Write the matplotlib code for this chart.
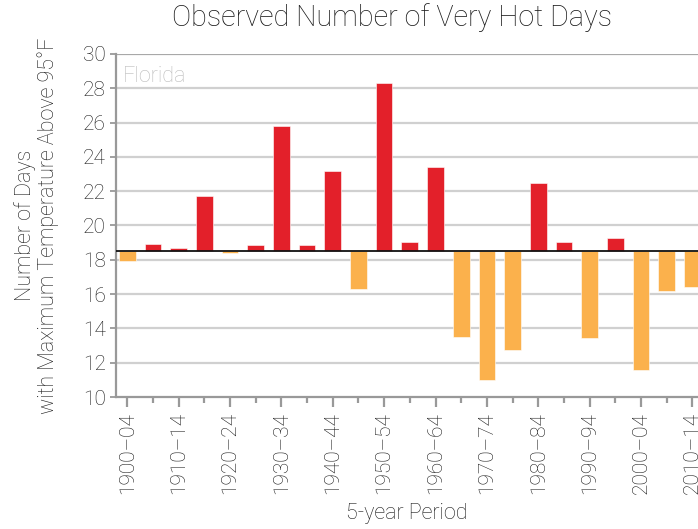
import matplotlib
matplotlib.use("Agg")
import matplotlib.pyplot as plt
import numpy as np

periods = ["1900–04", "1905–09", "1910–14", "1915–19", "1920–24", "1925–29",
           "1930–34", "1935–39", "1940–44", "1945–49", "1950–54", "1955–59",
           "1960–64", "1965–69", "1970–74", "1975–79", "1980–84", "1985–89",
           "1990–94", "1995–99", "2000–04", "2005–09", "2010–14"]
values = [17.95, 18.92, 18.67, 21.7, 18.38, 18.88, 25.8, 18.87, 23.15, 16.3,
          28.33, 19.03, 23.42, 13.5, 11.02, 12.72, 22.48, 19.02, 13.42, 19.25,
          11.55, 16.17, 16.4]
baseline = 18.5
yticks = [10, 12, 14, 16, 18, 20, 22, 24, 26, 28, 30]

plt.rcParams['font.family'] = ['Roboto', 'DejaVu Sans']
txt = "#1a1a1a"

fig = plt.figure(figsize=(6.98, 5.29), dpi=100)
ax = fig.add_axes([0.1658, 0.2495, 1.0 - 0.1658, 0.898 - 0.2495])

red = "#E3202A"
orange = "#FBB14C"
x = np.arange(len(values))
vals = np.array(values)
colors = [red if v >= baseline else orange for v in vals]
ax.bar(x, vals - baseline, bottom=baseline, width=0.65, color=colors,
       edgecolor="#ffffff", linewidth=0.4, zorder=3)

ax.set_xlim(-0.45, 22.22)
ax.set_ylim(10, 30)

for yv in yticks[1:-1]:
    ax.axhline(yv, color="#d0d0d0", linewidth=1.6, zorder=1)
ax.axhline(30, color="#a8a8a8", linewidth=1.6, zorder=1)
ax.axhline(baseline, color="#111111", linewidth=1.3, zorder=4)

for s in ["top", "right"]:
    ax.spines[s].set_visible(False)
for s in ["left", "bottom"]:
    ax.spines[s].set_color("#999999")
    ax.spines[s].set_linewidth(1.6)

ax.set_yticks(yticks)
ax.set_yticklabels([str(v) for v in yticks], fontsize=15, color=txt,
                   fontweight="light")
ax.tick_params(axis="y", length=4, width=1.3, color="#999999", pad=3)

ax.set_xticks(x[::2])
ax.set_xticklabels(periods[::2], rotation=90, fontsize=15, color=txt,
                   fontweight="light")
ax.set_xticks(x[1::2], minor=True)
ax.tick_params(axis="x", which="major", length=7, width=1.6, color="#999999", pad=4)
ax.tick_params(axis="x", which="minor", length=4, width=1.6, color="#999999")

ax.set_ylabel("Number of Days\nwith Maximum Temperature Above 95°F", fontsize=15.5,
              color=txt, fontweight="light", labelpad=17, linespacing=1.1)
ax.set_xlabel("5-year Period", fontsize=15.5, color=txt, fontweight="light",
              labelpad=6)
ax.text(0.012, 0.965, "Florida", transform=ax.transAxes, fontsize=15.5,
        color="#bbbbbb", va="top", ha="left", fontweight="light")

fig.suptitle("Observed Number of Very Hot Days", fontsize=20.7, color=txt,
             fontweight="light", x=0.562, y=0.995, va="top")

fig.savefig("out.png", dpi=100)
